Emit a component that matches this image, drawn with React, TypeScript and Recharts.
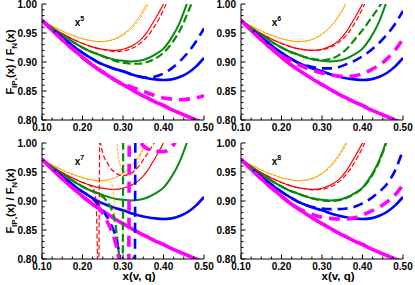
import React from 'react';
import { LineChart, Line, XAxis, YAxis, ReferenceDot } from 'recharts';

// ---------- axes ----------
const xTicks = [0.1, 0.125, 0.15, 0.175, 0.2, 0.225, 0.25, 0.275, 0.3, 0.325, 0.35, 0.375, 0.4, 0.425, 0.45, 0.475, 0.5];
const yTicks = [0.8, 0.81, 0.82, 0.83, 0.84, 0.85, 0.86, 0.87, 0.88, 0.89, 0.9, 0.91, 0.92, 0.93, 0.94, 0.95, 0.96, 0.97, 0.98, 0.99, 1.0];
const xDomain = [0.1, 0.5];
const yDomain = [0.8, 1.0];
const powers = ['5', '6', '7', '8'];

// ---------- common x grid ----------
const xGrid = [0.10, 0.12, 0.14, 0.16, 0.18, 0.20, 0.22, 0.24, 0.26, 0.28, 0.30, 0.32, 0.34, 0.36, 0.38, 0.40, 0.42, 0.44, 0.46, 0.48, 0.50];

// ---------- exact (solid) curves, same in every panel ----------
const orangeSolid = [0.972, 0.964, 0.957, 0.950, 0.945, 0.940, 0.937, 0.935, 0.936, 0.940, 0.948, 0.960, 0.978, 1.002, 1.035];
const redSolid = [0.972, 0.962, 0.953, 0.945, 0.938, 0.932, 0.927, 0.923, 0.921, 0.920, 0.922, 0.927, 0.936, 0.952, 0.975, 1.000, 1.030];
const greenSolid = [0.972, 0.961, 0.951, 0.942, 0.933, 0.925, 0.918, 0.913, 0.908, 0.904, 0.902, 0.901, 0.902, 0.906, 0.913, 0.923, 0.942, 0.968, 1.005];
const blueSolid = [0.972, 0.960, 0.948, 0.937, 0.926, 0.916, 0.907, 0.899, 0.893, 0.888, 0.884, 0.879, 0.875, 0.872, 0.870, 0.869, 0.870, 0.874, 0.881, 0.892, 0.907];
const magentaSolid = [0.972, 0.958, 0.945, 0.932, 0.920, 0.908, 0.897, 0.887, 0.878, 0.869, 0.861, 0.853, 0.845, 0.838, 0.831, 0.825, 0.818, 0.812, 0.806, 0.800, 0.795];

// ---------- x^5 expansion (dashed) ----------
const orangeDash5 = [0.972, 0.964, 0.957, 0.950, 0.945, 0.940, 0.937, 0.935, 0.936, 0.939, 0.946, 0.957, 0.973, 0.995, 1.025];
const redDash5 = [0.972, 0.962, 0.953, 0.945, 0.938, 0.932, 0.927, 0.923, 0.920, 0.918, 0.919, 0.923, 0.931, 0.944, 0.964, 0.990, 1.025];
const greenDash5 = [0.972, 0.961, 0.951, 0.942, 0.933, 0.925, 0.918, 0.913, 0.907, 0.902, 0.899, 0.897, 0.897, 0.900, 0.906, 0.916, 0.932, 0.954, 0.985, 1.020];
const blueDash5 = [0.972, 0.960, 0.948, 0.937, 0.926, 0.916, 0.907, 0.899, 0.893, 0.888, 0.884, 0.879, 0.875, 0.873, 0.875, 0.880, 0.889, 0.901, 0.916, 0.935, 0.958];
const magentaDash5 = [0.972, 0.958, 0.945, 0.932, 0.920, 0.908, 0.897, 0.887, 0.878, 0.869, 0.862, 0.857, 0.852, 0.847, 0.842, 0.838, 0.836, 0.835, 0.836, 0.838, 0.842];

// ---------- x^6 expansion (dashed) ----------
const orangeDash6 = [0.972, 0.964, 0.957, 0.950, 0.945, 0.940, 0.937, 0.935, 0.936, 0.940, 0.948, 0.960, 0.978, 1.002, 1.035];
const redDash6 = [0.972, 0.962, 0.953, 0.945, 0.938, 0.932, 0.927, 0.923, 0.921, 0.920, 0.921, 0.925, 0.933, 0.946, 0.966, 0.992, 1.025];
const greenDash6 = [0.972, 0.961, 0.951, 0.942, 0.933, 0.925, 0.918, 0.913, 0.908, 0.905, 0.903, 0.905, 0.911, 0.922, 0.938, 0.955, 0.974, 0.994, 1.016];
const blueDash6 = [0.972, 0.960, 0.948, 0.937, 0.926, 0.916, 0.907, 0.899, 0.894, 0.891, 0.889, 0.889, 0.891, 0.896, 0.902, 0.910, 0.920, 0.932, 0.947, 0.965, 0.988];
const magentaDash6 = [0.972, 0.958, 0.945, 0.932, 0.921, 0.911, 0.903, 0.896, 0.890, 0.885, 0.881, 0.878, 0.876, 0.875, 0.876, 0.880, 0.886, 0.894, 0.905, 0.920, 0.940];

// ---------- x^8 expansion (dashed) ----------
const orangeDash8 = [0.972, 0.964, 0.957, 0.950, 0.945, 0.940, 0.937, 0.935, 0.936, 0.939, 0.947, 0.958, 0.975, 0.998, 1.030];
const redDash8 = [0.972, 0.962, 0.953, 0.945, 0.938, 0.932, 0.927, 0.923, 0.921, 0.919, 0.920, 0.924, 0.932, 0.946, 0.966, 0.992, 1.025];
const greenDash8 = [0.972, 0.961, 0.951, 0.942, 0.933, 0.925, 0.918, 0.913, 0.908, 0.904, 0.901, 0.900, 0.901, 0.905, 0.912, 0.922, 0.940, 0.966, 1.003];
const blueDash8 = [0.972, 0.960, 0.948, 0.937, 0.926, 0.916, 0.907, 0.899, 0.893, 0.889, 0.887, 0.886, 0.886, 0.887, 0.890, 0.896, 0.904, 0.915, 0.929, 0.952, 0.988];
const magentaDash8 = [0.972, 0.958, 0.945, 0.932, 0.920, 0.908, 0.897, 0.888, 0.881, 0.876, 0.872, 0.870, 0.869, 0.869, 0.871, 0.876, 0.882, 0.889, 0.898, 0.910, 0.928];

// ---------- x^7 expansion (dashed, with poles) ----------
const orange7aX = [0.10, 0.12, 0.14, 0.16, 0.18, 0.20, 0.22, 0.24, 0.26, 0.27, 0.276, 0.279, 0.281];
const orange7aY = [0.972, 0.964, 0.957, 0.950, 0.945, 0.940, 0.937, 0.935, 0.935, 0.932, 0.915, 0.885, 0.860];
const orange7bX = [0.281, 0.285, 0.29, 0.30, 0.31, 0.32, 0.33, 0.34, 0.35, 0.355];
const orange7bY = [1.060, 1.000, 0.970, 0.950, 0.943, 0.945, 0.955, 0.972, 0.995, 1.010];
const red7aX = [0.10, 0.12, 0.14, 0.16, 0.18, 0.20, 0.22, 0.23, 0.234, 0.236, 0.237];
const red7aY = [0.972, 0.962, 0.953, 0.945, 0.938, 0.932, 0.926, 0.915, 0.890, 0.840, 0.790];
const red7bX = [0.2405, 0.241, 0.2415, 0.242, 0.243];
const red7bY = [0.790, 0.850, 0.920, 0.980, 1.050];
const red7cX = [0.2425, 0.245, 0.25, 0.26, 0.27, 0.28, 0.29, 0.30, 0.31, 0.32, 0.33, 0.34, 0.35, 0.36, 0.37, 0.38, 0.39];
const red7cY = [1.030, 1.000, 0.983, 0.967, 0.956, 0.949, 0.945, 0.944, 0.945, 0.948, 0.953, 0.961, 0.971, 0.981, 0.992, 1.004, 1.020];
const green7aX = [0.10, 0.12, 0.14, 0.16, 0.18, 0.20, 0.22, 0.24, 0.26, 0.27, 0.28, 0.285, 0.289, 0.292];
const green7aY = [0.972, 0.961, 0.951, 0.942, 0.933, 0.925, 0.918, 0.912, 0.900, 0.888, 0.865, 0.840, 0.815, 0.790];
const green7bX = [0.2995, 0.3005];
const green7bY = [0.790, 1.020];
const blue7aX = [0.10, 0.12, 0.14, 0.16, 0.18, 0.20, 0.22, 0.24, 0.25, 0.26, 0.27, 0.28, 0.286, 0.291, 0.294];
const blue7aY = [0.972, 0.960, 0.948, 0.937, 0.926, 0.916, 0.907, 0.893, 0.884, 0.873, 0.860, 0.843, 0.825, 0.810, 0.790];
const blue7bX = [0.3295, 0.3305];
const blue7bY = [0.790, 1.020];
const magenta7aX = [0.10, 0.12, 0.14, 0.16, 0.18, 0.20, 0.22, 0.24, 0.25, 0.26, 0.27, 0.28, 0.285, 0.29];
const magenta7aY = [0.972, 0.958, 0.945, 0.932, 0.920, 0.908, 0.898, 0.889, 0.879, 0.866, 0.851, 0.832, 0.818, 0.800];
const magenta7bX = [0.3145, 0.3155];
const magenta7bY = [0.790, 1.020];
const magenta7cX = [0.335, 0.345, 0.36, 0.38, 0.40, 0.41, 0.42, 0.43, 0.44];
const magenta7cY = [1.030, 1.000, 0.990, 0.986, 0.985, 0.987, 0.993, 1.003, 1.020];

// ---------- helpers ----------
type Pt = { x: number; y: number };
const pts = (xs: number[], ys: number[]): Pt[] =>
  ys.map((y, i) => ({ x: xs[i], y })).filter((p) => p.x !== undefined && p.y !== undefined);

const FONT = "'Liberation Sans', Arial, Helvetica, sans-serif";
const ORANGE = '#FFA500';
const RED = '#FF0000';
const GREEN = '#0A8A0A';
const BLUE = '#0000FF';
const MAGENTA = '#FF00FF';

type Style = { color: string; width: number; dash?: string };
const sOrange: Style = { color: ORANGE, width: 1 };
const sRed: Style = { color: RED, width: 1.2 };
const sGreen: Style = { color: GREEN, width: 2 };
const sBlue: Style = { color: BLUE, width: 2.6 };
const sMagenta: Style = { color: MAGENTA, width: 3.6 };
const dOrange: Style = { color: ORANGE, width: 1, dash: '2.5 1.5' };
const dRed: Style = { color: RED, width: 1.2, dash: '5 2.5' };
const dGreen: Style = { color: GREEN, width: 2.2, dash: '8 3.5' };
const dBlue: Style = { color: BLUE, width: 2.6, dash: '10 6' };
const dMagenta: Style = { color: MAGENTA, width: 3.6, dash: '11 7' };

type Series = { data: Pt[]; style: Style; linear?: boolean };

const solids = (): Series[] => [
  { data: pts(xGrid, orangeSolid), style: sOrange },
  { data: pts(xGrid, redSolid), style: sRed },
  { data: pts(xGrid, greenSolid), style: sGreen },
  { data: pts(xGrid, blueSolid), style: sBlue },
  { data: pts(xGrid, magentaSolid), style: sMagenta },
];

const panelSeries: Series[][] = [
  [
    { data: pts(xGrid, orangeDash5), style: dOrange },
    { data: pts(xGrid, redDash5), style: dRed },
    { data: pts(xGrid, greenDash5), style: dGreen },
    { data: pts(xGrid, blueDash5), style: dBlue },
    { data: pts(xGrid, magentaDash5), style: dMagenta },
  ],
  [
    { data: pts(xGrid, orangeDash6), style: dOrange },
    { data: pts(xGrid, redDash6), style: dRed },
    { data: pts(xGrid, greenDash6), style: dGreen },
    { data: pts(xGrid, blueDash6), style: dBlue },
    { data: pts(xGrid, magentaDash6), style: dMagenta },
  ],
  [
    { data: pts(orange7aX, orange7aY), style: dOrange },
    { data: pts(orange7bX, orange7bY), style: dOrange },
    { data: pts(red7aX, red7aY), style: dRed },
    { data: pts(red7bX, red7bY), style: dRed, linear: true },
    { data: pts(red7cX, red7cY), style: dRed },
    { data: pts(green7aX, green7aY), style: dGreen },
    { data: pts(green7bX, green7bY), style: dGreen, linear: true },
    { data: pts(blue7aX, blue7aY), style: dBlue },
    { data: pts(blue7bX, blue7bY), style: dBlue, linear: true },
    { data: pts(magenta7aX, magenta7aY), style: dMagenta },
    { data: pts(magenta7bX, magenta7bY), style: dMagenta, linear: true },
    { data: pts(magenta7cX, magenta7cY), style: dMagenta },
  ],
  [
    { data: pts(xGrid, orangeDash8), style: dOrange },
    { data: pts(xGrid, redDash8), style: dRed },
    { data: pts(xGrid, greenDash8), style: dGreen },
    { data: pts(xGrid, blueDash8), style: dBlue },
    { data: pts(xGrid, magentaDash8), style: dMagenta },
  ],
];

// ---------- ticks ----------
const isMajX = (v: number) => Math.abs(v * 10 - Math.round(v * 10)) < 1e-6;
const isMajY = (v: number) => Math.abs(v * 20 - Math.round(v * 20)) < 1e-6;
const TICK_FS = 10;

const BottomTick = (p: any) => {
  const v = p.payload.value;
  const maj = isMajX(v);
  return (
    <g>
      <line x1={p.x} x2={p.x} y1={p.y} y2={p.y - (maj ? 4.5 : 2.5)} stroke="#000" strokeWidth={1} />
      {maj && (
        <text x={p.x} y={p.y + 10.5} textAnchor="middle" fontSize={TICK_FS} fontWeight="bold" fontFamily={FONT} fill="#000">
          {v.toFixed(2)}
        </text>
      )}
    </g>
  );
};
const TopTick = (p: any) => {
  const v = p.payload.value;
  const maj = isMajX(v);
  return <line x1={p.x} x2={p.x} y1={p.y} y2={p.y + (maj ? 4.5 : 2.5)} stroke="#000" strokeWidth={1} />;
};
const LeftTick = (p: any) => {
  const v = p.payload.value;
  const maj = isMajY(v);
  return (
    <g>
      <line x1={p.x} x2={p.x + (maj ? 4.5 : 2.5)} y1={p.y} y2={p.y} stroke="#000" strokeWidth={1} />
      {maj && (
        <text x={p.x - 5} y={p.y + 3.6} textAnchor="end" fontSize={TICK_FS} fontWeight="bold" fontFamily={FONT} fill="#000">
          {v.toFixed(2)}
        </text>
      )}
    </g>
  );
};
const RightTick = (p: any) => {
  const v = p.payload.value;
  const maj = isMajY(v);
  return <line x1={p.x} x2={p.x - (maj ? 4.5 : 2.5)} y1={p.y} y2={p.y} stroke="#000" strokeWidth={1} />;
};

const YTitle = (props: any) => {
  const vb = props.viewBox || { x: 0, y: 0, width: 42, height: 116 };
  const cx = vb.x + 13.5;
  const cy = vb.y + vb.height / 2;
  return (
    <text transform={`translate(${cx}, ${cy}) rotate(-90)`} textAnchor="middle" fontSize={11} fontWeight="bold" fontFamily={FONT} fill="#000">
      F
      <tspan fontSize={8} dy={3}>IP</tspan>
      <tspan fontSize={6} dy={2}>*</tspan>
      <tspan fontSize={11} dy={-5}>(x) / F</tspan>
      <tspan fontSize={8} dy={3}>N</tspan>
      <tspan fontSize={11} dy={-3}>(x)</tspan>
    </text>
  );
};

const XTitle = (props: any) => {
  const vb = props.viewBox || { x: 42, y: 116, width: 162, height: 26 };
  return (
    <text x={vb.x + vb.width / 2 + 16} y={vb.y + 21} textAnchor="middle" fontSize={11.5} fontWeight="bold" fontFamily={FONT} fill="#000">
      x(v, q)
    </text>
  );
};

const PowerLabel = (power: string) => (props: any) => {
  const vb = props.viewBox || { x: 0, y: 0 };
  return (
    <text x={vb.x} y={vb.y} fontSize={10} fontWeight="bold" fontFamily={FONT} fill="#000">
      x<tspan fontSize={7} dy={-5}>{power}</tspan>
    </text>
  );
};

type PanelProps = { idx: number; left: number; top: number; bottom: boolean; yTitle: boolean; W: number; rightM: number };

const Panel = ({ idx, left, top, bottom, yTitle, W, rightM }: PanelProps) => {
  const H = bottom ? 146 : 140;
  const series = [...solids(), ...panelSeries[idx]];
  return (
    <div style={{ position: 'absolute', left, top, width: W, height: H }}>
      <LineChart width={W} height={H} margin={{ top: 4, right: rightM, bottom: 0, left: 0 }}>
        <XAxis
          xAxisId="b"
          type="number"
          dataKey="x"
          domain={xDomain}
          allowDataOverflow
          ticks={xTicks}
          interval={0}
          tickSize={0}
          tickMargin={0}
          tickLine={false}
          tick={BottomTick}
          axisLine={{ stroke: '#000', strokeWidth: 1 }}
          height={bottom ? 26 : 20}
          label={bottom ? { content: XTitle } : undefined}
        />
        <XAxis
          xAxisId="t"
          orientation="top"
          type="number"
          dataKey="x"
          domain={xDomain}
          allowDataOverflow
          ticks={xTicks}
          interval={0}
          tickSize={0}
          tickMargin={0}
          tickLine={false}
          tick={TopTick}
          axisLine={{ stroke: '#000', strokeWidth: 1 }}
          height={0}
        />
        <YAxis
          yAxisId="l"
          type="number"
          dataKey="y"
          domain={yDomain}
          allowDataOverflow
          ticks={yTicks}
          interval={0}
          tickSize={0}
          tickMargin={0}
          tickLine={false}
          tick={LeftTick}
          axisLine={{ stroke: '#000', strokeWidth: 1 }}
          width={42}
          label={yTitle ? { content: YTitle } : undefined}
        />
        <YAxis
          yAxisId="r"
          orientation="right"
          type="number"
          dataKey="y"
          domain={yDomain}
          allowDataOverflow
          ticks={yTicks}
          interval={0}
          tickSize={0}
          tickMargin={0}
          tickLine={false}
          tick={RightTick}
          axisLine={{ stroke: '#000', strokeWidth: 1 }}
          width={0}
        />
        {series.map((s, i) => (
          <Line
            key={i}
            xAxisId="b"
            yAxisId="l"
            data={s.data}
            dataKey="y"
            type={s.linear ? 'linear' : 'monotone'}
            stroke={s.style.color}
            strokeWidth={s.style.width}
            strokeDasharray={s.style.dash}
            dot={false}
            activeDot={false}
            isAnimationActive={false}
          />
        ))}
        <ReferenceDot
          xAxisId="b"
          yAxisId="l"
          x={idx % 2 === 0 ? 0.181 : 0.176}
          y={0.962}
          r={0}
          fill="none"
          stroke="none"
          label={{ content: PowerLabel(powers[idx]) }}
        />
      </LineChart>
    </div>
  );
};

export default function App() {
  return (
    <div style={{ position: 'absolute', left: 0, top: 0, width: 415, height: 285, background: '#fff', overflow: 'hidden' }}>
      <Panel idx={0} left={0} top={0} bottom={false} yTitle W={220} rightM={16} />
      <Panel idx={1} left={199} top={0} bottom={false} yTitle={false} W={216} rightM={12} />
      <Panel idx={2} left={0} top={139} bottom yTitle W={220} rightM={16} />
      <Panel idx={3} left={199} top={139} bottom yTitle={false} W={216} rightM={12} />
    </div>
  );
}
